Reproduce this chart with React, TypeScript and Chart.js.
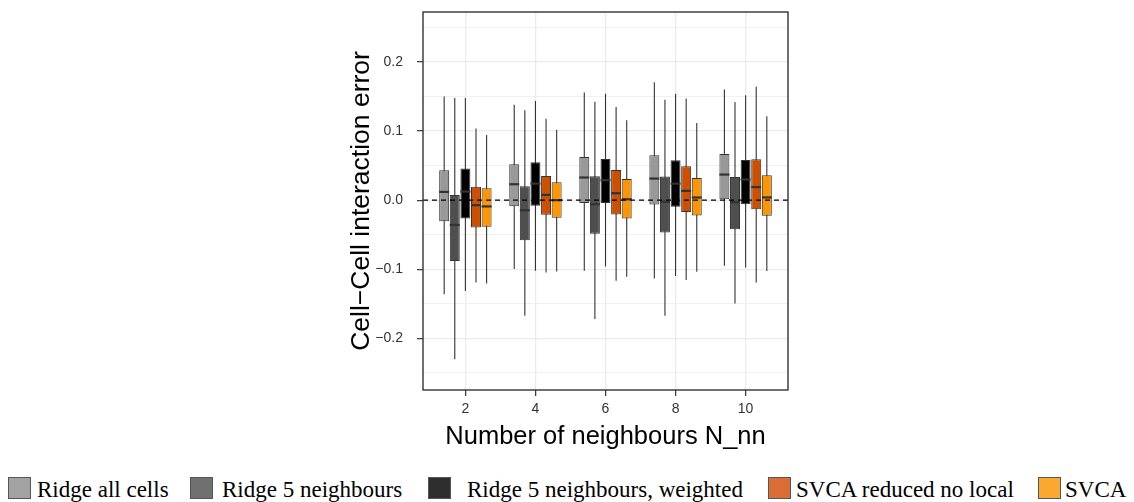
import React, { useEffect, useRef } from "react";
import { Chart, registerables } from "chart.js";

Chart.register(...registerables);

// Number of neighbours on the x axis
const neighbours = [2, 4, 6, 8, 10];

// Five-number summaries per neighbour count: [lower whisker, Q1, median, Q3, upper whisker]
const ridgeAllCells = [
  [-0.136, -0.0304, 0.012, 0.0434, 0.15],
  [-0.0997, -0.0087, 0.0231, 0.052, 0.138],
  [-0.102, -0.0039, 0.0328, 0.0626, 0.156],
  [-0.1132, -0.0063, 0.0313, 0.065, 0.1705],
  [-0.095, 0.0014, 0.0371, 0.067, 0.16],
];
const ridge5Neighbours = [
  [-0.23, -0.088, -0.0357, 0.0077, 0.148],
  [-0.167, -0.0578, -0.0145, 0.0202, 0.13],
  [-0.172, -0.0487, -0.0058, 0.0347, 0.1426],
  [-0.167, -0.0467, -0.0024, 0.0342, 0.1455],
  [-0.1493, -0.0419, -0.0029, 0.0337, 0.142],
];
const ridge5Weighted = [
  [-0.1315, -0.0265, 0.0125, 0.046, 0.148],
  [-0.102, -0.0082, 0.024, 0.0549, 0.1435],
  [-0.096, -0.0039, 0.0289, 0.0597, 0.154],
  [-0.1098, -0.0096, 0.024, 0.0578, 0.154],
  [-0.0973, -0.0058, 0.0299, 0.0583, 0.1517],
];
const svcaReducedNoLocal = [
  [-0.119, -0.0395, -0.0072, 0.0193, 0.1036],
  [-0.1045, -0.0212, 0.0077, 0.0351, 0.118],
  [-0.1166, -0.0207, 0.0101, 0.0438, 0.135],
  [-0.1156, -0.0169, 0.0135, 0.0491, 0.147],
  [-0.119, -0.013, 0.019, 0.0592, 0.1643],
];
const svca = [
  [-0.1205, -0.0385, -0.009, 0.0173, 0.0944],
  [-0.103, -0.0255, 0.0, 0.026, 0.102],
  [-0.1108, -0.0265, 0.0014, 0.0308, 0.1156],
  [-0.1036, -0.0222, 0.0039, 0.0323, 0.1117],
  [-0.1026, -0.0226, 0.004, 0.0361, 0.1214],
];

const seriesNames = [
  "Ridge all cells",
  "Ridge 5 neighbours",
  "Ridge 5 neighbours, weighted",
  "SVCA reduced no local",
  "SVCA",
];
const seriesValues = [ridgeAllCells, ridge5Neighbours, ridge5Weighted, svcaReducedNoLocal, svca];
const boxColors = ["#999999", "#4f4f4f", "#000000", "#cc5000", "#ff9500"];
const legendColors = ["#a3a3a3", "#707070", "#2e2e2e", "#d96d35", "#fba830"];

// legend layout: swatch left edge, label left edge
const legendSwatchX = [8, 190, 428, 768, 1038];
const legendTextX = [37, 222, 467, 796, 1065];

const OUTLINE = "#333333";
const SANS = "'Liberation Sans', Arial, Helvetica, sans-serif";
const SERIF = "'Liberation Serif', 'Times New Roman', serif";

const isMajorY = (v: number) => Math.round(v * 20) % 2 === 0;

const boxPlotPlugin = {
  id: "boxPlotParts",
  beforeDatasetsDraw(chart: any) {
    const { ctx } = chart;
    const y = chart.scales.y;
    ctx.save();
    ctx.strokeStyle = OUTLINE;
    ctx.lineWidth = 1.1;
    seriesValues.forEach((vals, i) => {
      const meta = chart.getDatasetMeta(i);
      meta.data.forEach((bar: any, j: number) => {
        const { x } = bar.getProps(["x"], true);
        ctx.beginPath();
        ctx.moveTo(x, y.getPixelForValue(vals[j][4]));
        ctx.lineTo(x, y.getPixelForValue(vals[j][0]));
        ctx.stroke();
      });
    });
    ctx.restore();
  },
  afterDatasetsDraw(chart: any) {
    const { ctx, chartArea } = chart;
    const y = chart.scales.y;
    ctx.save();
    // medians
    ctx.strokeStyle = OUTLINE;
    ctx.lineWidth = 2.2;
    seriesValues.forEach((vals, i) => {
      const meta = chart.getDatasetMeta(i);
      meta.data.forEach((bar: any, j: number) => {
        const { x, width } = bar.getProps(["x", "width"], true);
        const ym = y.getPixelForValue(vals[j][2]);
        ctx.beginPath();
        ctx.moveTo(x - width / 2, ym);
        ctx.lineTo(x + width / 2, ym);
        ctx.stroke();
      });
    });
    // zero reference line
    const y0 = y.getPixelForValue(0);
    ctx.strokeStyle = "#000000";
    ctx.lineWidth = 1.2;
    ctx.setLineDash([5, 4]);
    ctx.beginPath();
    ctx.moveTo(chartArea.left, y0);
    ctx.lineTo(chartArea.right, y0);
    ctx.stroke();
    ctx.setLineDash([]);
    // panel border
    ctx.strokeStyle = OUTLINE;
    ctx.lineWidth = 1.4;
    ctx.strokeRect(chartArea.left, chartArea.top, chartArea.right - chartArea.left, chartArea.bottom - chartArea.top);
    ctx.restore();
  },
};

export default function App() {
  const canvasRef = useRef<HTMLCanvasElement | null>(null);

  useEffect(() => {
    const canvas = canvasRef.current;
    if (!canvas) return;
    const chart = new Chart(canvas, {
      type: "bar",
      data: {
        datasets: seriesValues.map((vals, i) => ({
          label: seriesNames[i],
          data: vals.map((v, j) => ({ x: neighbours[j], y: [v[1], v[3]] })),
          backgroundColor: boxColors[i],
          borderColor: OUTLINE,
          borderWidth: 1,
          borderSkipped: false,
          categoryPercentage: 0.757,
          barPercentage: 0.94,
        })),
      } as any,
      options: {
        animation: false,
        responsive: false,
        maintainAspectRatio: false,
        layout: { padding: { left: 333, right: 346, top: 12, bottom: 10 } },
        plugins: { legend: { display: false }, tooltip: { enabled: false } },
        scales: {
          x: {
            type: "linear",
            min: 0.79,
            max: 11.21,
            offset: false,
            afterFit: (s: any) => {
              s.height = 70;
              s.paddingLeft = 0;
              s.paddingRight = 0;
            },
            border: { display: false },
            grid: {
              offset: false,
              color: "#ebebeb",
              lineWidth: 1.3,
              tickColor: OUTLINE,
              tickWidth: 1.2,
              tickLength: 6,
            },
            ticks: {
              stepSize: 2,
              includeBounds: false,
              autoSkip: false,
              maxRotation: 0,
              padding: 5,
              color: "#333333",
              font: { family: SANS, size: 14 },
              callback: (v: any) => String(v),
            },
            title: {
              display: true,
              text: "Number of neighbours N_nn",
              color: "#000000",
              font: { family: SANS, size: 25.5 },
              padding: { top: 0, bottom: 8 },
            },
          },
          y: {
            type: "linear",
            min: -0.2746,
            max: 0.2723,
            afterFit: (s: any) => {
              s.width = 90;
              s.paddingTop = 0;
              s.paddingBottom = 0;
            },
            border: { display: false },
            grid: {
              color: "#ebebeb",
              lineWidth: (c: any) => (c.tick && isMajorY(c.tick.value) ? 1.3 : 0.7),
              tickColor: (c: any) => (c.tick && isMajorY(c.tick.value) ? OUTLINE : "rgba(0,0,0,0)"),
              tickWidth: 1.2,
              tickLength: 6,
            },
            ticks: {
              stepSize: 0.05,
              includeBounds: false,
              autoSkip: false,
              padding: 14,
              color: "#333333",
              font: { family: SANS, size: 14 },
              callback: (v: any) => {
                const n = Number(v);
                if (!isMajorY(n)) return "";
                const r = Math.round(n * 10) / 10;
                return (r < 0 ? "\u2212" : "") + Math.abs(r).toFixed(1);
              },
            },
            title: {
              display: true,
              text: "Cell\u2212Cell interaction error",
              color: "#000000",
              font: { family: SANS, size: 26.5 },
              padding: { top: 13, bottom: 0 },
            },
          },
        },
      } as any,
      plugins: [boxPlotPlugin],
    });
    return () => chart.destroy();
  }, []);

  return (
    <div
      style={{
        position: "fixed",
        left: 0,
        top: 0,
        width: 1134,
        height: 502,
        background: "#ffffff",
        overflow: "hidden",
      }}
    >
      <canvas
        ref={canvasRef}
        width={1134}
        height={470}
        style={{ position: "absolute", left: 0, top: 0, width: 1134, height: 470 }}
      />
      {seriesNames.map((name, i) => (
        <React.Fragment key={name}>
          <div
            style={{
              position: "absolute",
              left: legendSwatchX[i],
              top: 477,
              width: 23,
              height: 22,
              boxSizing: "border-box",
              border: "1px solid #555555",
              background: legendColors[i],
            }}
          />
          <div
            style={{
              position: "absolute",
              left: legendTextX[i],
              top: 478,
              fontFamily: SERIF,
              fontSize: 23,
              lineHeight: "23px",
              color: "#000000",
              whiteSpace: "nowrap",
            }}
          >
            {name}
          </div>
        </React.Fragment>
      ))}
    </div>
  );
}
